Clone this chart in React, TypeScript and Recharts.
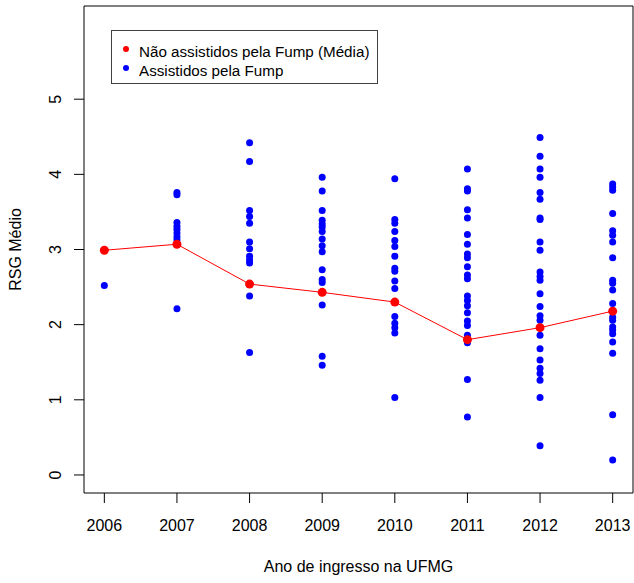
import React from "react";
import {
  ScatterChart,
  Scatter,
  XAxis,
  YAxis,
  Legend,
  ReferenceArea,
} from "recharts";

// anos de ingresso
const years = [2006, 2007, 2008, 2009, 2010, 2011, 2012, 2013];

// média dos não assistidos (linha vermelha)
const meanRsg = [2.99, 3.07, 2.54, 2.43, 2.3, 1.8, 1.96, 2.18];

// assistidos pela Fump, por ano
const rsg2006 = [2.52];
const rsg2007 = [3.76, 3.73, 3.36, 3.31, 3.27, 3.22, 3.17, 3.13, 2.21];
const rsg2008 = [4.42, 4.17, 3.52, 3.44, 3.35, 3.1, 3.01, 2.91, 2.86, 2.82, 2.38, 1.63];
const rsg2009 = [
  3.96, 3.78, 3.52, 3.39, 3.34, 3.3, 3.24, 3.14, 3.05, 2.97, 2.73, 2.6, 2.56,
  2.26, 1.58, 1.46,
];
const rsg2010 = [
  3.94, 3.4, 3.35, 3.24, 3.12, 3.04, 2.91, 2.75, 2.71, 2.58, 2.48, 2.11, 2.02,
  1.96, 1.89, 1.03,
];
const rsg2011 = [
  4.07, 3.81, 3.78, 3.53, 3.42, 3.2, 3.07, 2.94, 2.89, 2.77, 2.66, 2.61, 2.38,
  2.32, 2.25, 2.16, 2.05, 1.99, 1.86, 1.76, 1.27, 0.77,
];
const rsg2012 = [
  4.49, 4.24, 4.07, 3.96, 3.76, 3.67, 3.42, 3.4, 3.1, 2.99, 2.7, 2.64, 2.59,
  2.41, 2.24, 2.12, 2.06, 1.86, 1.68, 1.53, 1.42, 1.35, 1.26, 1.03, 0.39,
];
const rsg2013 = [
  3.87, 3.83, 3.79, 3.48, 3.25, 3.19, 3.1, 2.89, 2.59, 2.55, 2.46, 2.28, 2.1,
  2.06, 1.97, 1.93, 1.88, 1.77, 1.62, 0.8, 0.2,
];

const yTicks = [0, 1, 2, 3, 4, 5];

const assistedByYear = [
  rsg2006,
  rsg2007,
  rsg2008,
  rsg2009,
  rsg2010,
  rsg2011,
  rsg2012,
  rsg2013,
];

const assistedData = assistedByYear.flatMap((vals, i) =>
  vals.map((v) => ({ x: years[i], y: v }))
);
const meanData = years.map((yr, i) => ({ x: yr, y: meanRsg[i] }));

const FONT = '"Liberation Sans", Arial, sans-serif';
const X_DOMAIN = [2005.72, 2013.28];
const Y_DOMAIN = [-0.24, 6.24];

const BlueDot = (props: any) => (
  <circle cx={props.cx} cy={props.cy} r={3.5} fill="#0000FF" />
);
const RedDot = (props: any) => (
  <circle cx={props.cx} cy={props.cy} r={4.5} fill="#FF0000" />
);

// rótulos do eixo y paralelos ao eixo, como no R
const YTick = (props: any) => {
  const { x, y, payload } = props;
  return (
    <text
      x={x}
      y={y}
      transform={`rotate(-90, ${x}, ${y})`}
      textAnchor="middle"
      fill="#000"
      fontSize={16}
      fontFamily={FONT}
    >
      {payload.value}
    </text>
  );
};

const YLabel = (props: any) => {
  const vb = props.viewBox;
  const x = vb.x + 21;
  const y = vb.y + vb.height / 2;
  return (
    <text
      x={x}
      y={y}
      transform={`rotate(-90, ${x}, ${y})`}
      textAnchor="middle"
      fill="#000"
      fontSize={16}
      fontFamily={FONT}
    >
      RSG Médio
    </text>
  );
};

const XLabel = (props: any) => {
  const vb = props.viewBox;
  return (
    <text
      x={vb.x + vb.width / 2}
      y={vb.y + 79}
      textAnchor="middle"
      fill="#000"
      fontSize={16}
      fontFamily={FONT}
    >
      Ano de ingresso na UFMG
    </text>
  );
};

const LegendBox = () => {
  const items = [
    { name: "Não assistidos pela Fump (Média)", color: "#FF0000" },
    { name: "Assistidos pela Fump", color: "#0000FF" },
  ];
  return (
    <div
      style={{
        width: 267,
        height: 54,
        boxSizing: "border-box",
        border: "1px solid #404040",
        paddingTop: 11,
        fontFamily: FONT,
        fontSize: 15.2,
        color: "#000",
        background: "#fff",
      }}
    >
      {items.map((it) => (
        <div
          key={it.name}
          style={{ position: "relative", height: 19, lineHeight: "19px" }}
        >
          <span
            style={{
              position: "absolute",
              left: 11,
              top: 4,
              width: 6,
              height: 6,
              borderRadius: "50%",
              background: it.color,
            }}
          />
          <span style={{ position: "absolute", left: 27, whiteSpace: "nowrap" }}>
            {it.name}
          </span>
        </div>
      ))}
    </div>
  );
};

export default function App() {
  return (
    <div style={{ position: "absolute", left: 0, top: 0, background: "#fff" }}>
      <ScatterChart
        width={634}
        height={583}
        margin={{ top: 6, right: 1, bottom: 0, left: 0 }}
      >
        <XAxis
          type="number"
          dataKey="x"
          domain={X_DOMAIN}
          ticks={years}
          allowDataOverflow
          axisLine={false}
          tickLine={{ stroke: "#000" }}
          tickSize={10}
          tickMargin={17}
          height={90}
          tick={{ fill: "#000", fontSize: 16, fontFamily: FONT }}
          label={<XLabel />}
        />
        <YAxis
          type="number"
          dataKey="y"
          domain={Y_DOMAIN}
          ticks={yTicks}
          allowDataOverflow
          axisLine={false}
          tickLine={{ stroke: "#000" }}
          tickSize={10}
          tickMargin={13}
          width={84}
          tick={<YTick />}
          label={<YLabel />}
        />
        <ReferenceArea
          x1={X_DOMAIN[0]}
          x2={X_DOMAIN[1]}
          y1={Y_DOMAIN[0]}
          y2={Y_DOMAIN[1]}
          fill="none"
          stroke="#000"
          strokeWidth={1}
          fillOpacity={0}
          strokeOpacity={1}
        />
        <Legend
          layout="vertical"
          align="center"
          verticalAlign="middle"
          content={<LegendBox />}
          wrapperStyle={{ top: 30, left: 111, width: 267, height: 54 }}
        />
        <Scatter
          name="Assistidos pela Fump"
          data={assistedData}
          shape={<BlueDot />}
          isAnimationActive={false}
        />
        <Scatter
          name="Não assistidos pela Fump (Média)"
          data={meanData}
          shape={<RedDot />}
          line={{ stroke: "#FF0000", strokeWidth: 1 }}
          isAnimationActive={false}
        />
      </ScatterChart>
    </div>
  );
}
